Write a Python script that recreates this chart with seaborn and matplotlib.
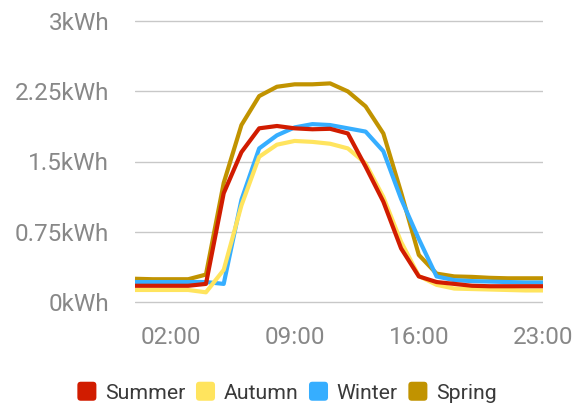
import numpy as np
import pandas as pd
import seaborn as sns
import matplotlib.pyplot as plt
from matplotlib.legend_handler import HandlerPatch
from matplotlib.patches import FancyBboxPatch, Patch

# ---- data ----
hours = list(range(24))
summer = [0.17, 0.17, 0.17, 0.17, 0.19, 1.16, 1.60, 1.855, 1.88, 1.855, 1.845, 1.85,
          1.80, 1.445, 1.07, 0.57, 0.27, 0.21, 0.19, 0.17, 0.165, 0.165, 0.165, 0.165]
autumn = [0.125, 0.125, 0.125, 0.125, 0.10, 0.34, 1.03, 1.55, 1.68, 1.72, 1.71, 1.69,
          1.64, 1.48, 1.12, 0.64, 0.275, 0.18, 0.14, 0.135, 0.13, 0.125, 0.12, 0.12]
winter = [0.21, 0.21, 0.21, 0.21, 0.21, 0.19, 1.09, 1.64, 1.78, 1.865, 1.90, 1.89,
          1.855, 1.82, 1.61, 1.10, 0.67, 0.27, 0.23, 0.22, 0.215, 0.21, 0.205, 0.205]
spring = [0.245, 0.24, 0.24, 0.24, 0.29, 1.27, 1.89, 2.20, 2.30, 2.326, 2.326, 2.336,
          2.25, 2.09, 1.80, 1.17, 0.50, 0.30, 0.27, 0.265, 0.255, 0.25, 0.25, 0.25]
seasons = ["Summer", "Autumn", "Winter", "Spring"]
colors = {"Summer": "#d11c00", "Autumn": "#ffe45e", "Winter": "#36aeff", "Spring": "#c19300"}
x_ticks = [2, 9, 16, 23]
x_tick_labels = ["02:00", "09:00", "16:00", "23:00"]
y_ticks = [0, 0.75, 1.5, 2.25, 3]

series = {"Summer": summer, "Autumn": autumn, "Winter": winter, "Spring": spring}
df = pd.DataFrame([(h, s, v) for s in seasons for h, v in zip(hours, series[s])],
                  columns=["hour", "season", "kwh"])

sns.set_theme(style="white")
plt.rcParams['font.family'] = ['Roboto', 'DejaVu Sans']

fig = plt.figure(figsize=(5.84, 4.05), dpi=100)
ax = fig.add_axes([135 / 584, 1 - 311 / 405, 408 / 584, 299 / 405])

sns.lineplot(data=df, x="hour", y="kwh", hue="season",
             hue_order=["Spring", "Winter", "Autumn", "Summer"],
             palette=colors, linewidth=3, legend=False, ax=ax)
for ln in ax.lines:
    ln.set_solid_joinstyle('round')
    ln.set_solid_capstyle('butt')
    ln.set_clip_on(False)

ax.set_xlim(0, 23)
ax.set_ylim(-0.1, 3.1)
ax.set_xticks(x_ticks)
ax.set_xticklabels(x_tick_labels)
ax.set_yticks(y_ticks)
ax.set_yticklabels([f"{v:g}kWh" for v in y_ticks])
ax.set_xlabel("")
ax.set_ylabel("")
for sp in ax.spines.values():
    sp.set_visible(False)
ax.yaxis.grid(True, color="#c8c8c8", linewidth=1)
ax.xaxis.grid(False)
ax.set_axisbelow(True)
ax.tick_params(axis='y', length=0, pad=18.5, labelsize=17.5, labelcolor="#888888")
ax.tick_params(axis='x', length=0, pad=11, labelsize=17.5, labelcolor="#888888")


class RoundSquare(HandlerPatch):
    def create_artists(self, legend, orig_handle, xdescent, ydescent,
                       width, height, fontsize, trans):
        s = 13.7
        x0 = -xdescent + (width - s) / 2
        y0 = -ydescent + (height - s) / 2
        p = FancyBboxPatch((x0, y0), s, s,
                           boxstyle=f"round,pad=0,rounding_size={s * 0.18}",
                           fc=orig_handle.get_facecolor(), ec='none', transform=trans)
        return [p]


handles = [Patch(facecolor=colors[s], label=s) for s in seasons]
leg = fig.legend(handles=handles, loc='center', ncol=4, frameon=False,
                 bbox_to_anchor=(287 / 584, 1 - 392.5 / 405), bbox_transform=fig.transFigure,
                 handler_map={Patch: RoundSquare()}, fontsize=15.3,
                 handlelength=0.9, handleheight=0.9, handletextpad=0.4,
                 columnspacing=0.5, borderpad=0, borderaxespad=0)
for t in leg.get_texts():
    t.set_color("#3a3a3a")

fig.savefig("out.png", dpi=100)
